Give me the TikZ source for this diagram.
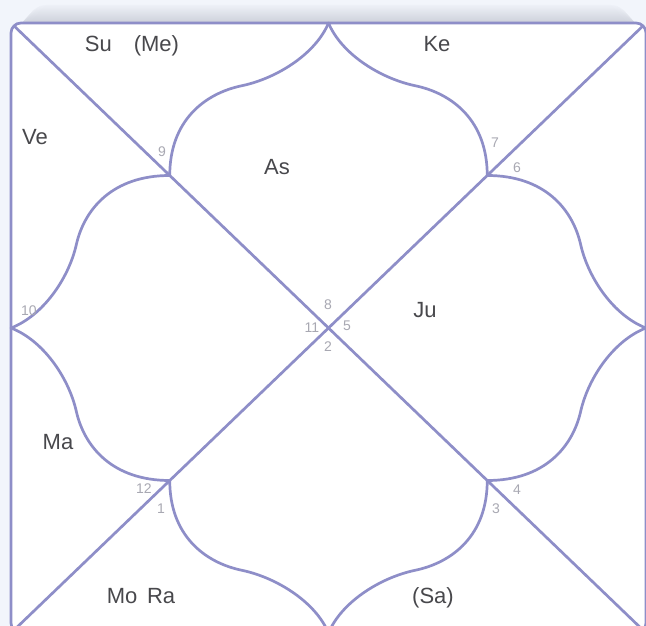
\documentclass[tikz,border=0pt]{standalone}
\usepackage{fontspec}
\setmainfont{Liberation Sans}
\definecolor{chartline}{RGB}{142,142,200}
\definecolor{pagebg}{RGB}{242,245,251}
\definecolor{housegrey}{RGB}{168,168,178}
\definecolor{planetgrey}{RGB}{72,72,76}
\definecolor{shade}{RGB}{150,154,170}

\begin{document}
\begin{tikzpicture}[x=1pt,y=1pt,
    chart/.style={draw=chartline,line width=2.7pt,line cap=round,line join=round},
    planet/.style={text=planetgrey,font=\fontsize{22}{25}\selectfont,inner sep=0pt,anchor=base},
    houseno/.style={text=housegrey,font=\fontsize{14}{16}\selectfont,inner sep=0pt,anchor=base}]
  % page and shadow
  \useasboundingbox (0,0) rectangle (646,-626);
  \fill[pagebg] (0,0) rectangle (646,-626);
  \foreach \i in {18,...,1}{
    \pgfmathsetmacro\mix{40-2*\i}
    \fill[shade!\mix!pagebg,rounded corners=18pt] (12+0.9*\i,-23+\i) rectangle (645-0.9*\i,-300);
  }
  % frame and diagonals
  \fill[white,rounded corners=10pt] (11,-23) rectangle (646,-633);
  \begin{scope}
    \clip[rounded corners=10pt] (11,-23) rectangle (646,-633);
    \draw[chart] (11,-23) -- (646,-633);
    \draw[chart] (646,-23) -- (11,-633);
  \end{scope}
  % one petal, reflected eight times
  \begin{scope}[shift={(328.5,-328)},xscale=317.5,yscale=305]
    \foreach \a/\b/\c/\d in {1/0/0/1,-1/0/0/1,1/0/0/-1,-1/0/0/-1,0/-1/-1/0,0/1/-1/0,0/-1/1/0,0/1/1/0}
      \draw[chart,cm={\a,\b,\c,\d,(0,0)}] (-0.5,0.5) .. controls (-0.5,0.68) and (-0.39,0.77) .. (-0.27,0.795)
        .. controls (-0.16,0.82) and (-0.04,0.9) .. (0,1);
  \end{scope}
  \draw[chart,rounded corners=10pt] (11,-23) rectangle (646,-633);
  % planets
  \node[planet] (su) at (132,-52) {Su\quad(Me)};
  \node[planet] (ke) at (437,-52) {Ke};
  \node[planet] (ve) at (35,-144.5) {Ve};
  \node[planet] (as) at (277,-175) {As};
  \node[planet] (ju) at (425,-317.5) {Ju};
  \node[planet] (ma) at (58,-449.5) {Ma};
  \node[planet] (mora) at (141,-603) {Mo\, Ra};
  \node[planet] (sa) at (433,-603) {(Sa)};
  % house numbers
  \foreach \n/\x/\y in {1/161/508,2/328/346,3/496/508,4/517/489,5/347/325,6/517/167,
      7/495/142,8/328/304,9/162/152,10/29/310,11/312/327,12/144/488}
    \node[houseno] (h\n) at (\x,-\y-5) {\n};
\end{tikzpicture}
\end{document}
